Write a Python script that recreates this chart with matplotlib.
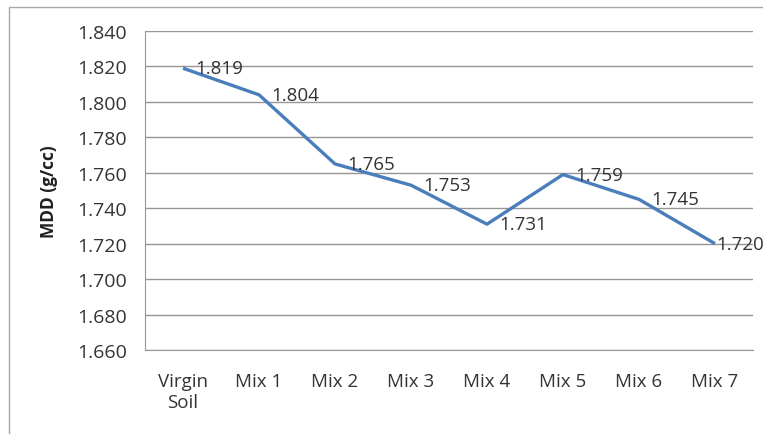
import matplotlib
matplotlib.use("Agg")
import matplotlib.pyplot as plt
from matplotlib.patches import Rectangle

categories = ["Virgin\nSoil", "Mix 1", "Mix 2", "Mix 3", "Mix 4", "Mix 5", "Mix 6", "Mix 7"]
mdd = [1.819, 1.804, 1.765, 1.753, 1.731, 1.759, 1.745, 1.720]
yticks = [1.660, 1.680, 1.700, 1.720, 1.740, 1.760, 1.780, 1.800, 1.820, 1.840]

W, H = 763, 435
fig = plt.figure(figsize=(W / 100, H / 100), dpi=100)
plt.rcParams['font.family'] = ['Open Sans', 'DejaVu Sans']

# outer chart border (top & left visible)
fig.patches.append(Rectangle((9 / W, -0.05), 1.1, (H - 8) / H + 0.05, transform=fig.transFigure,
                             fill=False, edgecolor="#a8a8a8", linewidth=1.0))

left, right, top, bottom = 145, 753, 32, 351
ax = fig.add_axes([left / W, 1 - bottom / H, (right - left) / W, (bottom - top) / H])

x = list(range(len(categories)))
ax.plot(x, mdd, color="#4A7EBB", linewidth=2.4, solid_capstyle="butt", zorder=3)
for xi, v in zip(x, mdd):
    off = 9 if xi < len(x) - 1 else 1
    ax.annotate(f"{v:.3f}", (xi, v), xytext=(off, 0), textcoords="offset points",
                ha="left", va="center", fontsize=13.5, color="#333333", annotation_clip=False,
                clip_on=False)

ax.set_xlim(-0.5, len(categories) - 0.5)
ax.set_ylim(1.660, 1.840)
ax.set_yticks(yticks)
ax.set_yticklabels([f"{t:.3f}" for t in yticks], fontsize=14, color="#333333")
ax.set_xticks(x)
ax.set_xticklabels(categories, fontsize=13.5, color="#333333", linespacing=1.2)
ax.tick_params(axis="y", length=0, pad=13)
ax.tick_params(axis="x", length=0, pad=16)
ax.grid(axis="y", color="#969696", linewidth=1.0)
ax.set_axisbelow(True)
for s in ["top", "right"]:
    ax.spines[s].set_visible(False)
ax.spines["left"].set_color("#969696")
ax.spines["bottom"].set_color("#969696")
ax.set_ylabel("MDD (g/cc)", fontsize=12.5, fontweight="bold", color="#202020", labelpad=14)

fig.savefig("out.png", dpi=100)
